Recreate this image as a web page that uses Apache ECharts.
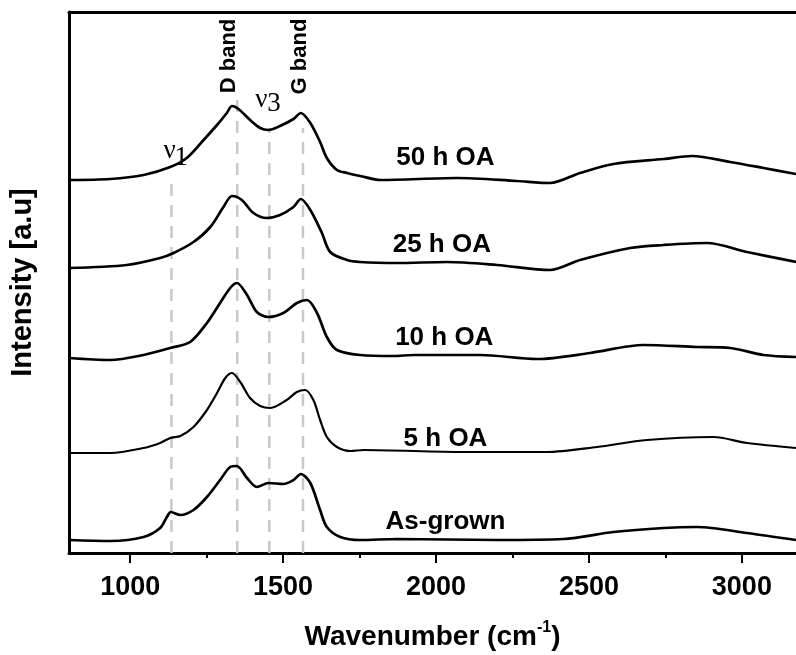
<!DOCTYPE html>
<html>
<head>
<meta charset="utf-8">
<script src="https://cdn.jsdelivr.net/npm/echarts@6/dist/echarts.min.js"></script>
<style>
html,body{margin:0;padding:0;background:#fff;}
#chart{width:796px;height:655px;}
</style>
</head>
<body>
<div id="chart"></div>
<script>
// ---- data (wavenumber, stacked intensity a.u.) ----
const curveNames = ['50 h OA', '25 h OA', '10 h OA', '5 h OA', 'As-grown'];

const oa50 = [[800,373],[935,374],[1044,378],[1131,386],[1185,395],[1240,413],[1284,428],[1316,440],[1333,447],[1354,444],[1392,433],[1425,425],[1452,423],[1490,427],[1534,434],[1558,440],[1589,430],[1621,411],[1643,395],[1676,383],[1709,380],[1752,377],[1818,373],[2068,375],[2264,372],[2373,370],[2471,380],[2580,389],[2744,394],[2837,397],[2962,391],[3071,385],[3177,379]];

const oa25 = [[800,285],[989,288],[1098,295],[1142,300],[1207,311],[1262,326],[1305,346],[1333,357],[1365,353],[1403,340],[1447,335],[1490,338],[1534,346],[1558,354],[1589,343],[1627,320],[1654,301],[1709,293],[1752,291],[1872,290],[2036,291],[2199,288],[2373,283],[2471,293],[2635,305],[2744,308],[2886,310],[3017,301],[3177,291]];

const oa10 = [[800,195],[935,193],[1044,198],[1131,205],[1196,211],[1251,230],[1294,250],[1327,265],[1349,270],[1382,258],[1414,241],[1452,236],[1501,240],[1545,250],[1578,253],[1611,240],[1643,216],[1676,203],[1752,198],[1861,197],[1927,198],[2145,198],[2330,194],[2504,200],[2678,208],[2853,206],[2962,205],[3071,198],[3177,196]];

const oa5 = [[800,100],[935,100],[1044,105],[1098,110],[1131,115],[1164,117],[1207,126],[1251,143],[1284,160],[1311,175],[1333,180],[1360,171],[1392,155],[1425,147],[1458,145],[1512,153],[1545,161],[1572,163],[1599,153],[1621,133],[1643,116],[1676,106],[1720,102],[1763,103],[2090,101],[2362,101],[2526,106],[2690,113],[2907,116],[3017,110],[3177,105]];

const asGrown = [[800,13],[935,12],[1044,16],[1098,25],[1120,36],[1133,41],[1164,38],[1207,43],[1251,56],[1294,73],[1327,86],[1349,87],[1382,75],[1414,66],[1452,70],[1501,69],[1534,73],[1558,79],[1589,70],[1621,43],[1643,26],[1687,16],[1752,13],[1872,14],[2199,13],[2417,14],[2580,21],[2744,25],[2853,26],[3017,20],[3177,13]];

const curveLabelX = [2031, 2019, 2027, 2031, 2031];
const curveLabelY = [395.5, 308.5, 215.5, 114, 31.5];

// dashed reference lines (band positions)
const dashX = [1135, 1350, 1455, 1565];
const dashTop = [370, 453, 425, 425];

// band annotations
const bandNames = ['D band', 'G band'];
const bandX = [1322, 1556];
const bandY = [497, 496.5];

const nuText = ['ν', '1', 'ν', '3'];
const nuX = [1129, 1167, 1429, 1470];
const nuY = [402.5, 395.5, 453, 449.5];

const majorTicks = [1000, 1500, 2000, 2500, 3000];
const minorTicks = [1250, 1750, 2250, 2750];

const X_MIN = 800, X_MAX = 3177, Y_MIN = 0, Y_MAX = 541;

// ---- chart ----
const SANS = '"Liberation Sans", Arial, sans-serif';
const SERIF = '"Liberation Serif", "Times New Roman", serif';
const chart = echarts.init(document.getElementById('chart'));
const curves = [oa50, oa25, oa10, oa5, asGrown];

const series = [];
dashX.forEach((x, i) => {
  series.push({
    type: 'line', xAxisIndex: 0, yAxisIndex: 0, silent: true, symbol: 'none', z: 1,
    data: [[x, Y_MIN], [x, dashTop[i]]],
    lineStyle: { color: '#c8c8c8', width: 2.5, type: [12, 9] }
  });
});
curves.forEach((d, i) => {
  series.push({
    type: 'line', name: curveNames[i], xAxisIndex: 0, yAxisIndex: 0, silent: true,
    symbol: 'none', smooth: 0.3, z: 3,
    data: d,
    lineStyle: { color: '#000', width: i === 3 ? 2.2 : 2.7 }
  });
});
function textSeries(data, labelExtra) {
  return {
    type: 'scatter', xAxisIndex: 0, yAxisIndex: 0, silent: true, symbolSize: 0, z: 5,
    itemStyle: { opacity: 1 },
    data: data,
    label: Object.assign({ show: true, position: 'inside', formatter: p => p.name, color: '#000',
      opacity: 1, align: 'center', verticalAlign: 'middle' }, labelExtra)
  };
}
series.push(textSeries(curveNames.map((n, i) => ({ value: [curveLabelX[i], curveLabelY[i]], name: n })),
  { fontFamily: SANS, fontWeight: 'bold', fontSize: 26 }));
series.push(textSeries(bandNames.map((n, i) => ({ value: [bandX[i], bandY[i]], name: n })),
  { fontFamily: SANS, fontWeight: 'bold', fontSize: 22, rotate: 90 }));
series.push(textSeries(nuText.map((n, i) => ({ value: [nuX[i], nuY[i]], name: n })),
  { fontFamily: SERIF, fontSize: 27 }));

chart.setOption({
  animation: false,
  backgroundColor: '#fff',
  grid: { left: 69, right: 0, top: 12, bottom: 102, outerBoundsMode: 'none', containLabel: false },
  xAxis: [
    {
      type: 'value', position: 'bottom', min: X_MIN, max: X_MAX,
      name: '{a|Wavenumber (cm}{b|-1}{a|)}', nameLocation: 'middle', nameGap: 67,
      nameTextStyle: { rich: {
        a: { fontFamily: SANS, fontWeight: 'bold', fontSize: 28, color: '#000', lineHeight: 34 },
        b: { fontFamily: SANS, fontWeight: 'bold', fontSize: 16, color: '#000', verticalAlign: 'top', lineHeight: 16 }
      } },
      splitLine: { show: false },
      axisLine: { show: true, onZero: false, lineStyle: { color: '#000', width: 3 } },
      axisTick: { show: true, inside: false, length: 10, customValues: majorTicks, lineStyle: { color: '#000', width: 2 } },
      axisLabel: { show: true, customValues: majorTicks, margin: 21, color: '#000', fontFamily: SANS, fontWeight: 'bold', fontSize: 27,
        formatter: v => String(v) }
    },
    {
      type: 'value', position: 'bottom', min: X_MIN, max: X_MAX,
      splitLine: { show: false },
      axisLine: { show: false },
      axisTick: { show: true, inside: false, length: 5, customValues: minorTicks, lineStyle: { color: '#000', width: 2 } },
      axisLabel: { show: false }
    },
    {
      type: 'value', position: 'top', min: X_MIN, max: X_MAX,
      splitLine: { show: false },
      axisLine: { show: true, onZero: false, lineStyle: { color: '#000', width: 3 } },
      axisTick: { show: false }, axisLabel: { show: false }
    }
  ],
  yAxis: {
    type: 'value', min: Y_MIN, max: Y_MAX,
    name: 'Intensity [a.u]', nameLocation: 'middle', nameGap: 32, nameRotate: 90,
    nameTextStyle: { fontFamily: SANS, fontWeight: 'bold', fontSize: 29, color: '#000' },
    splitLine: { show: false },
    axisLine: { show: true, onZero: false, lineStyle: { color: '#000', width: 3 } },
    axisTick: { show: false }, axisLabel: { show: false }
  },
  series: series
});
</script>
</body>
</html>
